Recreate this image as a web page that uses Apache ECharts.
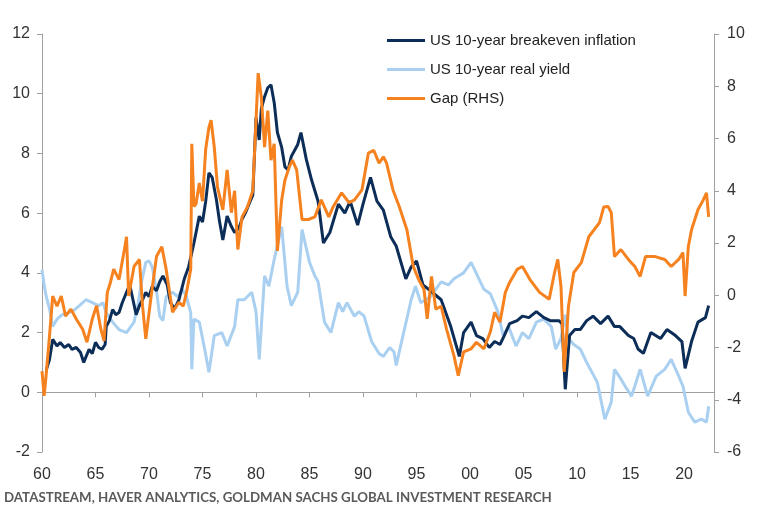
<!DOCTYPE html>
<html>
<head>
<meta charset="utf-8">
<script src="https://cdn.jsdelivr.net/npm/echarts@6/dist/echarts.min.js"></script>
<style>
html,body{margin:0;padding:0;background:#fff;}
#chart{width:760px;height:515px;}
</style>
</head>
<body>
<div id="chart"></div>
<script>
// US 10-year breakeven inflation (LHS), [year, %]
const breakeven = [
[1960.4,0.75],[1960.7,1.1],[1961.0,1.77],[1961.4,1.55],[1961.7,1.67],[1962.1,1.5],[1962.5,1.6],[1962.8,1.44],
[1963.2,1.5],[1963.6,1.33],[1963.9,1.0],[1964.4,1.44],[1964.7,1.3],[1965.0,1.67],[1965.3,1.5],[1965.6,1.44],
[1965.9,1.6],[1966.0,2.2],[1966.3,2.4],[1966.6,2.77],[1966.9,2.6],[1967.2,2.67],[1967.5,3.0],[1967.9,3.35],
[1968.2,3.6],[1968.5,3.1],[1968.8,2.6],[1969.1,2.9],[1969.4,3.1],[1969.7,3.35],[1970.0,3.2],[1970.3,3.55],
[1970.7,3.4],[1971.0,3.7],[1971.3,3.9],[1971.7,3.6],[1972.0,3.0],[1972.4,2.8],[1972.8,3.1],[1973.3,3.8],
[1973.7,4.2],[1974.2,5.0],[1974.7,5.9],[1975.0,5.7],[1975.3,6.4],[1975.6,7.35],[1975.9,7.2],[1976.3,6.45],
[1976.6,5.7],[1976.9,5.1],[1977.3,5.9],[1977.7,5.55],[1978.0,5.35],[1978.4,5.5],[1978.7,5.8],[1979.0,6.0],
[1979.4,6.35],[1979.7,6.6],[1980.0,9.2],[1980.3,8.45],[1980.5,9.5],[1980.8,9.9],[1981.1,10.2],[1981.4,10.3],
[1981.7,9.7],[1982.0,8.7],[1982.4,8.2],[1982.7,7.55],[1983.0,7.45],[1983.3,7.9],[1983.6,8.1],[1983.9,8.3],
[1984.2,8.7],[1984.7,7.8],[1985.2,7.1],[1985.8,6.4],[1986.3,5.0],[1986.9,5.35],[1987.7,6.3],[1988.3,6.0],
[1988.8,6.4],[1989.5,5.6],[1990.0,6.3],[1990.7,7.2],[1991.3,6.4],[1991.9,6.1],[1992.6,5.2],[1993.1,4.9],
[1994.0,3.8],[1994.5,4.2],[1995.0,4.4],[1995.6,3.6],[1996.3,3.4],[1997.3,3.1],[1998.2,2.2],[1999.0,1.2],
[1999.4,2.0],[2000.1,2.35],[2000.6,1.9],[2001.2,1.8],[2001.8,1.5],[2002.3,1.7],[2002.8,1.6],[2003.2,1.9],
[2003.7,2.3],[2004.4,2.4],[2004.9,2.55],[2005.5,2.5],[2006.2,2.7],[2006.9,2.5],[2007.5,2.4],[2008.3,2.4],
[2008.6,2.3],[2008.9,0.1],[2009.3,1.9],[2009.8,2.1],[2010.3,2.1],[2010.9,2.4],[2011.5,2.55],[2012.2,2.3],
[2012.9,2.55],[2013.5,2.2],[2014.0,2.2],[2014.8,1.9],[2015.3,1.8],[2015.7,1.45],[2016.2,1.3],[2016.9,2.0],
[2017.8,1.8],[2018.4,2.1],[2019.2,1.9],[2019.8,1.7],[2020.1,0.8],[2020.7,1.7],[2021.3,2.35],[2022.0,2.5],
[2022.3,2.9]
];
// US 10-year real yield (LHS), [year, %]
const realYield = [
[1960.0,4.1],[1960.2,3.6],[1960.4,3.2],[1960.7,2.8],[1961.0,2.2],[1961.4,2.45],[1961.9,2.6],[1962.5,2.67],
[1963.0,2.75],[1963.5,2.9],[1964.1,3.1],[1964.7,3.0],[1965.3,2.9],[1965.7,3.0],[1966.0,2.67],[1966.6,2.35],
[1967.2,2.1],[1967.9,2.0],[1968.6,2.35],[1969.0,3.0],[1969.3,3.7],[1969.7,4.35],[1970.0,4.4],[1970.3,4.2],
[1970.7,3.4],[1971.0,2.55],[1971.3,2.4],[1971.6,3.2],[1972.2,3.35],[1972.7,3.2],[1973.1,3.45],[1973.5,3.2],
[1973.9,2.67],[1974.0,0.77],[1974.2,2.45],[1974.7,2.35],[1975.2,1.45],[1975.6,0.67],[1976.1,1.9],[1976.8,2.0],
[1977.3,1.55],[1978.0,2.2],[1978.3,3.1],[1978.9,3.1],[1979.6,3.35],[1980.0,2.7],[1980.3,1.1],[1980.8,3.9],
[1981.2,3.55],[1981.7,4.45],[1982.4,5.55],[1982.9,3.55],[1983.3,2.9],[1983.9,3.35],[1984.3,5.45],[1985.0,4.35],
[1985.5,3.9],[1985.8,3.7],[1986.4,2.35],[1987.0,2.0],[1987.7,3.0],[1988.1,2.7],[1988.5,3.0],[1989.2,2.55],
[1989.6,2.7],[1990.1,2.55],[1990.8,1.7],[1991.5,1.3],[1991.9,1.2],[1992.5,1.5],[1992.9,1.35],[1993.1,0.9],
[1993.8,2.0],[1994.5,3.1],[1994.9,3.55],[1995.4,3.0],[1996.3,3.2],[1997.3,3.7],[1998.0,3.6],[1998.5,3.8],
[1999.4,4.0],[2000.1,4.35],[2000.7,3.9],[2001.3,3.45],[2001.9,3.3],[2002.6,2.7],[2003.1,1.9],[2003.6,2.2],
[2004.3,1.55],[2004.9,2.0],[2005.5,1.8],[2006.2,2.35],[2006.9,2.45],[2007.6,2.2],[2008.0,1.45],[2008.5,1.8],
[2008.9,2.6],[2009.2,1.8],[2009.7,1.6],[2010.3,1.45],[2010.9,1.0],[2011.5,0.6],[2011.9,0.33],[2012.6,-0.9],
[2013.2,-0.33],[2013.5,0.77],[2014.0,0.5],[2014.5,0.2],[2015.1,-0.13],[2015.9,0.77],[2016.6,-0.13],[2017.4,0.54],
[2018.2,0.77],[2018.8,1.1],[2019.5,0.54],[2019.9,0.2],[2020.4,-0.67],[2021.0,-1.0],[2021.6,-0.9],[2022.1,-1.0],
[2022.3,-0.47]
];
// Gap (RHS), [year, %]
const gap = [
[1960.0,-2.9],[1960.2,-3.85],[1960.4,-3.0],[1960.7,-1.56],[1961.0,-0.03],[1961.4,-0.42],[1961.8,-0.03],[1962.2,-0.8],
[1962.7,-0.53],[1963.2,-0.91],[1963.8,-1.3],[1964.2,-1.8],[1964.7,-0.91],[1965.1,-0.4],[1965.5,-1.3],[1965.8,-1.75],
[1966.1,0.1],[1966.4,0.5],[1966.7,1.0],[1967.2,0.6],[1967.7,1.75],[1967.9,2.24],[1968.1,-0.03],[1968.6,1.1],
[1969.1,1.37],[1969.4,-0.42],[1969.7,-1.67],[1970.2,-0.03],[1970.7,1.48],[1971.2,1.86],[1971.6,1.0],[1972.2,-0.65],
[1972.8,-0.27],[1973.2,-0.42],[1973.5,0.1],[1973.9,1.0],[1974.0,5.8],[1974.2,3.4],[1974.4,3.5],[1974.7,4.3],
[1975.0,3.6],[1975.3,5.6],[1975.6,6.43],[1975.8,6.7],[1976.1,5.67],[1976.4,4.14],[1976.9,3.27],[1977.3,4.8],
[1977.7,3.16],[1978.0,4.0],[1978.3,1.75],[1978.7,3.0],[1979.2,3.38],[1979.7,4.0],[1980.0,6.7],[1980.2,8.5],
[1980.5,7.57],[1980.8,5.67],[1981.1,7.07],[1981.4,5.17],[1981.7,5.8],[1982.0,1.7],[1982.4,3.65],[1982.7,4.4],
[1983.1,4.9],[1983.4,5.17],[1983.8,4.8],[1984.3,2.9],[1984.9,2.9],[1985.5,3.0],[1986.1,3.65],[1986.8,3.0],
[1987.2,3.38],[1988.0,3.92],[1988.7,3.54],[1989.2,3.65],[1989.9,4.03],[1990.5,5.44],[1991.0,5.55],[1991.5,5.06],
[1991.9,5.3],[1992.2,5.06],[1992.8,4.03],[1993.4,3.38],[1994.1,2.51],[1994.7,1.1],[1995.2,0.6],[1995.7,0.22],
[1996.0,-0.9],[1996.4,0.72],[1996.8,-0.53],[1997.3,-0.42],[1997.8,-1.29],[1998.5,-2.32],[1998.9,-3.08],[1999.4,-2.17],
[2000.1,-2.05],[2000.6,-1.8],[2001.3,-2.05],[2001.9,-1.4],[2002.3,-0.65],[2002.8,-1.03],[2003.3,0.11],[2003.7,0.49],
[2004.4,0.99],[2004.9,1.1],[2005.6,0.6],[2006.5,0.11],[2007.4,-0.15],[2007.9,0.87],[2008.2,1.37],[2008.5,0.34],
[2008.8,-2.93],[2009.2,-0.42],[2009.7,0.87],[2010.4,1.25],[2011.1,2.24],[2012.1,2.78],[2012.5,3.38],[2012.9,3.4],
[2013.2,3.16],[2013.5,1.48],[2014.1,1.75],[2014.8,1.37],[2015.4,1.1],[2015.9,0.72],[2016.4,1.48],[2017.3,1.48],
[2018.2,1.37],[2018.8,1.1],[2019.5,1.37],[2019.9,1.63],[2020.1,-0.03],[2020.4,1.86],[2020.7,2.51],[2021.3,3.27],
[2021.8,3.65],[2022.1,3.92],[2022.3,3.0]
];
const yearTicks = [1960,1965,1970,1975,1980,1985,1990,1995,2000,2005,2010,2015,2020];
const seriesNames = ['US 10-year breakeven inflation','US 10-year real yield','Gap (RHS)'];
const sourceText = 'DATASTREAM, HAVER ANALYTICS, GOLDMAN SACHS GLOBAL INVESTMENT RESEARCH';

const colors = {be:'#0c2d57', ry:'#a9d0f0', gap:'#f5821f'};
const axisColor = '#a0a0a0';
const labelColor = '#333333';
const font = 'Liberation Sans, Arial, sans-serif';

const chart = echarts.init(document.getElementById('chart'), null, {renderer:'canvas'});
chart.setOption({
  animation:false,
  backgroundColor:'#ffffff',
  grid:{left:42, right:46, top:34, bottom:63, containLabel:false},
  legend:{
    data:seriesNames,
    orient:'vertical',
    left:387, top:33, padding:0,
    itemWidth:38, itemHeight:3, itemGap:14,
    icon:'rect',
    textStyle:{fontFamily:font, fontSize:15, color:'#222'}
  },
  graphic:[{
    type:'text', left:4, top:491,
    style:{text:sourceText, fontFamily:'Lato, sans-serif', fontWeight:'bold', fontSize:13.3, fill:'#5a5a5a'}
  }],
  xAxis:[
    { // labels along the bottom
      type:'value', min:1960, max:2022.8, position:'bottom',
      axisLine:{show:false, onZero:false},
      axisTick:{show:false},
      axisLabel:{customValues:yearTicks, margin:15, fontFamily:font, fontSize:16, color:labelColor,
        formatter:v=>String(Math.round(v)%100).padStart(2,'0')},
      splitLine:{show:false}
    },
    { // axis line and ticks at zero of LHS
      type:'value', min:1960, max:2022.8, position:'bottom',
      axisLine:{show:true, onZero:true, onZeroAxisIndex:0, lineStyle:{color:axisColor}},
      axisTick:{show:true, length:5, inside:false, customValues:yearTicks, lineStyle:{color:axisColor}},
      axisLabel:{show:false},
      splitLine:{show:false}
    }
  ],
  yAxis:[
    {type:'value', min:-2, max:12, interval:2, position:'left',
     axisLine:{show:true, onZero:false, lineStyle:{color:axisColor}},
     axisTick:{show:true, length:5, lineStyle:{color:axisColor}},
     axisLabel:{margin:12, fontFamily:font, fontSize:16, color:labelColor},
     splitLine:{show:false}},
    {type:'value', min:-6, max:10, interval:2, position:'right',
     axisLine:{show:true, onZero:false, lineStyle:{color:axisColor}},
     axisTick:{show:true, length:5, lineStyle:{color:axisColor}},
     axisLabel:{margin:13, fontFamily:font, fontSize:16, color:labelColor},
     splitLine:{show:false}}
  ],
  series:[
    {name:seriesNames[1], type:'line', data:realYield, xAxisIndex:0, yAxisIndex:0, showSymbol:false,
     lineStyle:{color:colors.ry, width:3}, itemStyle:{color:colors.ry}, z:2},
    {name:seriesNames[0], type:'line', data:breakeven, xAxisIndex:0, yAxisIndex:0, showSymbol:false,
     lineStyle:{color:colors.be, width:3}, itemStyle:{color:colors.be}, z:3},
    {name:seriesNames[2], type:'line', data:gap, xAxisIndex:0, yAxisIndex:1, showSymbol:false,
     lineStyle:{color:colors.gap, width:3}, itemStyle:{color:colors.gap}, z:4}
  ]
});
</script>
</body>
</html>
